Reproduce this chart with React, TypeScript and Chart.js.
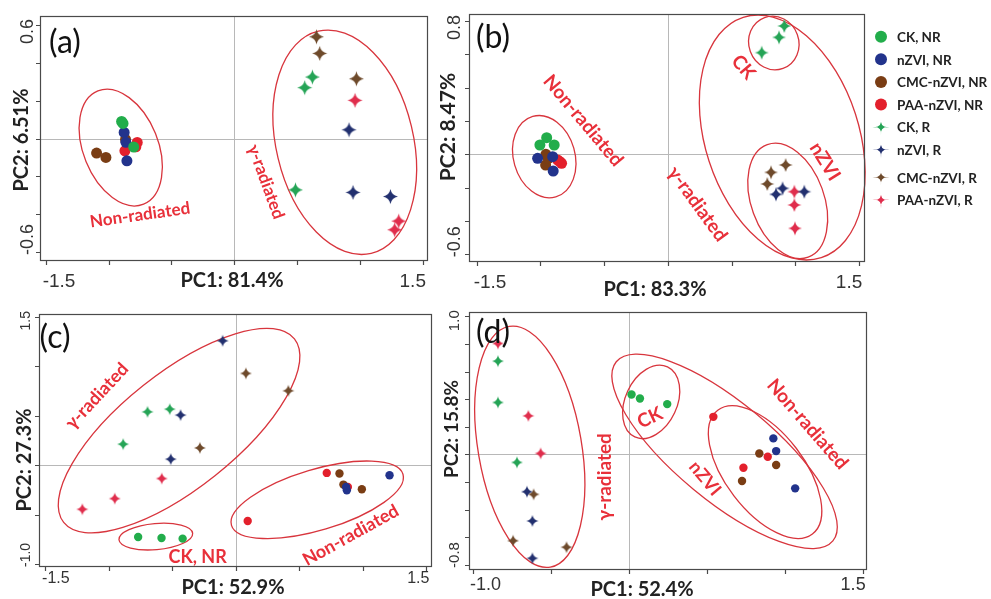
import { useEffect, useRef } from "react";
import { Chart, registerables } from "chart.js";

Chart.register(...registerables);

const PAGE_W = 991;
const PAGE_H = 599;

// Treatment groups, in legend order
const SERIES = [
  "CK, NR",
  "nZVI, NR",
  "CMC-nZVI, NR",
  "PAA-nZVI, NR",
  "CK, R",
  "nZVI, R",
  "CMC-nZVI, R",
  "PAA-nZVI, R",
];
const RADIATED = [false, false, false, false, true, true, true, true];
const SERIES_COLORS = ["#22ad4b", "#22338c", "#7a3d14", "#e3202c", "#25a456", "#22306f", "#6e4a2b", "#e02d4c"];

type Pt = [number, number];

// PCA scores (PC1, PC2), three replicates per series
const scoresA: Pt[][] = [
  [[-0.896, 0.09], [-0.885, 0.08], [-0.8, -0.045]],
  [[-0.876, 0.032], [-0.862, -0.02], [-0.854, -0.118]],
  [[-1.095, -0.077], [-1.021, -0.1], [-0.865, -0.005]],
  [[-0.87, -0.065], [-0.772, -0.021], [-0.783, -0.044]],
  [[0.56, 0.269], [0.621, 0.325], [0.486, -0.272]],
  [[0.912, 0.046], [0.944, -0.285], [1.241, -0.307]],
  [[0.653, 0.538], [0.679, 0.45], [0.971, 0.316]],
  [[0.96, 0.202], [1.307, -0.437], [1.275, -0.483]],
];
const scoresB: Pt[][] = [
  [[-0.951, 0.1], [-1.004, 0.056], [-0.892, 0.056]],
  [[-1.022, -0.024], [-0.904, -0.014], [-0.9, -0.1]],
  [[-0.957, 0.0], [-0.959, -0.064], [-0.939, -0.024]],
  [[-0.847, -0.044], [-0.834, -0.054], [-0.865, -0.034]],
  [[0.735, 0.61], [0.871, 0.702], [0.912, 0.77]],
  [[0.847, -0.24], [0.899, -0.204], [1.069, -0.224]],
  [[0.808, -0.108], [0.923, -0.064], [0.779, -0.178]],
  [[0.991, -0.224], [0.991, -0.304], [0.996, -0.444]],
];
const scoresC: Pt[][] = [
  [[-0.768, -0.726], [-0.584, -0.736], [-0.418, -0.743]],
  [[1.21, -0.101], [0.874, -0.253], [0.868, -0.22]],
  [[0.816, -0.084], [0.847, -0.196], [0.992, -0.243]],
  [[0.716, -0.078], [0.094, -0.564], [0.882, -0.22]],
  [[-0.694, 0.54], [-0.519, 0.567], [-0.886, 0.213]],
  [[-0.103, 1.259], [-0.434, 0.507], [-0.511, 0.061]],
  [[0.08, 0.929], [0.414, 0.753], [-0.282, 0.175]],
  [[-0.582, -0.135], [-0.952, -0.338], [-1.207, -0.446]],
];
const scoresD: Pt[][] = [
  [[0.017, 0.434], [0.071, 0.405], [0.246, 0.364]],
  [[0.927, 0.116], [0.945, 0.024], [1.067, -0.246]],
  [[0.837, 0.007], [0.945, -0.077], [0.726, -0.193]],
  [[0.542, 0.272], [0.891, -0.017], [0.735, -0.097]],
  [[-0.84, 0.675], [-0.84, 0.376], [-0.718, -0.058]],
  [[-0.654, -0.27], [-0.619, -0.482], [-0.619, -0.752]],
  [[-0.611, -0.289], [-0.743, -0.625], [-0.4, -0.672]],
  [[-0.84, 0.803], [-0.645, 0.279], [-0.566, 0.007]],
];

// Axis ticks
const ticksX15 = [-1.5, -1, -0.5, 0, 0.5, 1, 1.5];
const ticksYA = [-0.6, -0.4, -0.2, 0, 0.2, 0.4, 0.6];
const ticksYB = [-0.6, -0.4, -0.2, 0, 0.2, 0.4, 0.6, 0.8];
const ticksYC = [-1, -0.5, 0, 0.5, 1, 1.5];
const ticksXD = [-1, -0.5, 0, 0.5, 1, 1.5];
const ticksYD = [-0.8, -0.6, -0.4, -0.2, 0, 0.2, 0.4, 0.6, 0.8, 1.0];

// Explained variance per component
const varA = [81.4, 6.51];
const varB = [83.3, 8.47];
const varC = [52.9, 27.3];
const varD = [52.4, 15.8];

// Grouping ellipses: centre, semi-axes (in axis units), tilt in degrees
type Ring = { cx: number; cy: number; rx: number; ry: number; rot: number };
const ringsA: Ring[] = [
  { cx: -0.903, cy: -0.048, rx: 0.298, ry: 0.323, rot: -22 },
  { cx: 0.878, cy: -0.02, rx: 0.545, ry: 0.604, rot: -13.4 },
];
const ringsB: Ring[] = [
  { cx: -0.97, cy: -0.014, rx: 0.241, ry: 0.251, rot: -16 },
  { cx: 0.83, cy: 0.668, rx: 0.196, ry: 0.162, rot: -20 },
  { cx: 0.939, cy: -0.279, rx: 0.286, ry: 0.359, rot: -20 },
  { cx: 0.896, cy: 0.101, rx: 0.603, ry: 0.758, rot: -18 },
];
const ringsC: Ring[] = [
  { cx: -0.446, cy: 0.35, rx: 1.16, ry: 0.583, rot: -38.5 },
  { cx: -0.629, cy: -0.722, rx: 0.291, ry: 0.132, rot: -5 },
  { cx: 0.641, cy: -0.35, rx: 0.704, ry: 0.308, rot: -16.6 },
];
const ringsD: Ring[] = [
  { cx: -0.636, cy: 0.055, rx: 0.332, ry: 0.884, rot: -9.7 },
  { cx: 0.614, cy: 0.022, rx: 0.902, ry: 0.355, rot: 39.6 },
  { cx: 0.143, cy: 0.38, rx: 0.166, ry: 0.28, rot: 25 },
  { cx: 0.874, cy: -0.128, rx: 0.5, ry: 0.284, rot: 52.6 },
];

// Group captions placed in axis units
type Note = { text: string; x: number; y: number; rot: number; size: number };
const notesA: Note[] = [
  { text: "Non-radiated", x: -0.75, y: -0.405, rot: -8, size: 17 },
  { text: "γ-radiated", x: 0.251, y: -0.229, rot: 70, size: 17 },
];
const notesB: Note[] = [
  { text: "Non-radiated", x: -0.664, y: 0.202, rot: 50, size: 19 },
  { text: "γ-radiated", x: 0.23, y: -0.298, rot: 54, size: 19 },
  { text: "CK", x: 0.591, y: 0.522, rot: 50, size: 19 },
  { text: "nZVI", x: 1.231, y: -0.044, rot: 58, size: 19 },
];
const notesC: Note[] = [
  { text: "γ-radiated", x: -1.091, y: 0.699, rot: -47, size: 18 },
  { text: "CK, NR", x: -0.3, y: -0.929, rot: 0, size: 18 },
  { text: "Non-radiated", x: 0.905, y: -0.709, rot: -29, size: 18 },
];
const notesD: Note[] = [
  { text: "γ-radiated", x: -0.154, y: -0.162, rot: -90, size: 19 },
  { text: "CK", x: 0.135, y: 0.265, rot: -25, size: 19 },
  { text: "nZVI", x: 0.488, y: -0.174, rot: 50, size: 18 },
  { text: "Non-radiated", x: 1.146, y: 0.219, rot: 49, size: 19 },
];

const RING_COLOR = "#d8353d";
const NOTE_COLOR = "#e8303a";
const INK = "#222";
const AXIS_INK = "#4a4a4a";
const BOLD_FONT = "Lato, 'Open Sans', 'Noto Sans', sans-serif";
const TICK_FONT = "'Liberation Sans Narrow', 'Arial Narrow', 'Liberation Sans', sans-serif";

type Frame = { l: number; t: number; r: number; b: number };
type PanelSpec = {
  letter: string;
  frame: Frame;
  xRange: [number, number];
  yRange: [number, number];
  xTicks: number[];
  yTicks: number[];
  variance: number[];
  scores: Pt[][];
  rings: Ring[];
  notes: Note[];
  dotR: number;
  starR: number;
  letterPos: [number, number];
  xTitlePos: [number, number];
  yTitlePos: [number, number];
  titleSize: number;
  yTitleSize: number;
  xTickY: number;
  xTickSize: number;
  yTickX: number;
  yTickSize: number;
  legend: boolean;
};

const PANELS: PanelSpec[] = [
  {
    letter: "(a)",
    frame: { l: 40, t: 16, r: 428, b: 261 },
    xRange: [-1.545, 1.54],
    yRange: [-0.648, 0.648],
    xTicks: ticksX15,
    yTicks: ticksYA,
    variance: varA,
    scores: scoresA,
    rings: ringsA,
    notes: notesA,
    dotR: 5.5,
    starR: 7.5,
    letterPos: [65, 43],
    xTitlePos: [232, 281],
    yTitlePos: [22, 140],
    titleSize: 20,
    yTitleSize: 20,
    xTickY: 282,
    xTickSize: 19,
    yTickX: 28,
    yTickSize: 18,
    legend: false,
  },
  {
    letter: "(b)",
    frame: { l: 469, t: 14, r: 865, b: 262 },
    xRange: [-1.56, 1.545],
    yRange: [-0.646, 0.842],
    xTicks: ticksX15,
    yTicks: ticksYB,
    variance: varB,
    scores: scoresB,
    rings: ringsB,
    notes: notesB,
    dotR: 5.5,
    starR: 7,
    letterPos: [493, 38],
    xTitlePos: [655, 290],
    yTitlePos: [448, 127],
    titleSize: 20,
    yTitleSize: 21,
    xTickY: 283,
    xTickSize: 19,
    yTickX: 455,
    yTickSize: 18,
    legend: true,
  },
  {
    letter: "(c)",
    frame: { l: 39, t: 314, r: 432, b: 567 },
    xRange: [-1.548, 1.544],
    yRange: [-1.03, 1.53],
    xTicks: ticksX15,
    yTicks: ticksYC,
    variance: varC,
    scores: scoresC,
    rings: ringsC,
    notes: notesC,
    dotR: 4.2,
    starR: 6,
    letterPos: [55, 338],
    xTitlePos: [233, 588],
    yTitlePos: [25, 460],
    titleSize: 20,
    yTitleSize: 20,
    xTickY: 579,
    xTickSize: 16,
    yTickX: 26,
    yTickSize: 14,
    legend: false,
  },
  {
    letter: "(d)",
    frame: { l: 469, t: 312, r: 867, b: 570 },
    xRange: [-1.026, 1.528],
    yRange: [-0.837, 1.031],
    xTicks: ticksXD,
    yTicks: ticksYD,
    variance: varD,
    scores: scoresD,
    rings: ringsD,
    notes: notesD,
    dotR: 4.2,
    starR: 6,
    letterPos: [493, 333],
    xTitlePos: [642, 590],
    yTitlePos: [452, 429],
    titleSize: 20,
    yTitleSize: 19,
    xTickY: 585,
    xTickSize: 18,
    yTickX: 455,
    yTickSize: 15,
    legend: false,
  },
];

// Four-pointed star used for the irradiated samples
function starPath(ctx: CanvasRenderingContext2D, cx: number, cy: number, r: number, w: number) {
  ctx.beginPath();
  ctx.moveTo(cx, cy - r);
  ctx.quadraticCurveTo(cx + w, cy - w, cx + r, cy);
  ctx.quadraticCurveTo(cx + w, cy + w, cx, cy + r);
  ctx.quadraticCurveTo(cx - w, cy + w, cx - r, cy);
  ctx.quadraticCurveTo(cx - w, cy - w, cx, cy - r);
  ctx.closePath();
}

function starImage(color: string, r: number): HTMLCanvasElement {
  const size = Math.ceil(2 * r + 2);
  const c = document.createElement("canvas");
  c.width = size;
  c.height = size;
  const g = c.getContext("2d")!;
  g.fillStyle = color;
  starPath(g, size / 2, size / 2, r, r * 0.16);
  g.fill();
  return c;
}

function fmt(v: number) {
  return v.toFixed(1);
}

function panelDecor(spec: PanelSpec) {
  return {
    id: "panelDecor",
    beforeDatasetsDraw(chart: Chart) {
      const { ctx, chartArea: a } = chart;
      const xs = chart.scales.x;
      const ys = chart.scales.y;
      ctx.save();
      // reference lines through the origin
      ctx.strokeStyle = "#b8b8b8";
      ctx.lineWidth = 1;
      const zx = Math.round(xs.getPixelForValue(0)) + 0.5;
      const zy = Math.round(ys.getPixelForValue(0)) + 0.5;
      ctx.beginPath();
      ctx.moveTo(zx, a.top);
      ctx.lineTo(zx, a.bottom);
      ctx.moveTo(a.left, zy);
      ctx.lineTo(a.right, zy);
      ctx.stroke();
      // group ellipses
      ctx.strokeStyle = RING_COLOR;
      ctx.lineWidth = 1.3;
      for (const r of spec.rings) {
        const px = xs.getPixelForValue(r.cx);
        const py = ys.getPixelForValue(r.cy);
        const rx = Math.abs(xs.getPixelForValue(r.cx + r.rx) - px);
        const ry = Math.abs(ys.getPixelForValue(r.cy + r.ry) - py);
        ctx.beginPath();
        ctx.ellipse(px, py, rx, ry, (r.rot * Math.PI) / 180, 0, Math.PI * 2);
        ctx.stroke();
      }
      ctx.restore();
    },
    afterDatasetsDraw(chart: Chart) {
      const { ctx, chartArea: a } = chart;
      const xs = chart.scales.x;
      const ys = chart.scales.y;
      ctx.save();

      // box and tick marks
      ctx.strokeStyle = AXIS_INK;
      ctx.lineWidth = 1.2;
      ctx.strokeRect(a.left + 0.5, a.top + 0.5, a.right - a.left - 1, a.bottom - a.top - 1);
      ctx.beginPath();
      for (const v of spec.xTicks) {
        const px = Math.round(xs.getPixelForValue(v)) + 0.5;
        ctx.moveTo(px, a.bottom);
        ctx.lineTo(px, a.bottom + 4);
      }
      for (const v of spec.yTicks) {
        const py = Math.round(ys.getPixelForValue(v)) + 0.5;
        ctx.moveTo(a.left, py);
        ctx.lineTo(a.left - 4, py);
      }
      ctx.stroke();

      // end tick labels
      ctx.fillStyle = "#333";
      ctx.textBaseline = "middle";
      ctx.font = `${spec.xTickSize}px ${TICK_FONT}`;
      const xFirst = spec.xTicks[0];
      const xLast = spec.xTicks[spec.xTicks.length - 1];
      ctx.textAlign = "left";
      ctx.fillText(fmt(xFirst), xs.getPixelForValue(xFirst) - 3, spec.xTickY);
      ctx.textAlign = "right";
      ctx.fillText(fmt(xLast), xs.getPixelForValue(xLast) + 3, spec.xTickY);

      ctx.font = `${spec.yTickSize}px ${TICK_FONT}`;
      const yFirst = spec.yTicks[0];
      const yLast = spec.yTicks[spec.yTicks.length - 1];
      ctx.save();
      ctx.translate(spec.yTickX, ys.getPixelForValue(yFirst));
      ctx.rotate(-Math.PI / 2);
      ctx.textAlign = "left";
      ctx.fillText(fmt(yFirst), -3, 0);
      ctx.restore();
      ctx.save();
      ctx.translate(spec.yTickX, ys.getPixelForValue(yLast));
      ctx.rotate(-Math.PI / 2);
      ctx.textAlign = "right";
      ctx.fillText(fmt(yLast), 6, 0);
      ctx.restore();

      // axis titles
      ctx.fillStyle = INK;
      ctx.textAlign = "center";
      ctx.font = `bold ${spec.titleSize}px ${BOLD_FONT}`;
      ctx.fillText(`PC1: ${spec.variance[0]}%`, spec.xTitlePos[0], spec.xTitlePos[1]);
      ctx.save();
      ctx.translate(spec.yTitlePos[0], spec.yTitlePos[1]);
      ctx.rotate(-Math.PI / 2);
      ctx.font = `bold ${spec.yTitleSize}px ${BOLD_FONT}`;
      ctx.fillText(`PC2: ${spec.variance[1]}%`, 0, 0);
      ctx.restore();

      // panel letter
      ctx.fillStyle = "#111";
      ctx.font = `32px ${BOLD_FONT}`;
      ctx.fillText(spec.letter, spec.letterPos[0], spec.letterPos[1]);

      // group captions
      ctx.fillStyle = NOTE_COLOR;
      for (const n of spec.notes) {
        ctx.save();
        ctx.translate(xs.getPixelForValue(n.x), ys.getPixelForValue(n.y));
        ctx.rotate((n.rot * Math.PI) / 180);
        ctx.font = `bold ${n.size}px ${BOLD_FONT}`;
        ctx.fillText(n.text, 0, 0);
        ctx.restore();
      }

      // legend
      if (spec.legend) {
        const lx = 881;
        ctx.font = `bold 13.5px ${BOLD_FONT}`;
        ctx.textAlign = "left";
        SERIES.forEach((name, i) => {
          const ly = 36.7 + i * 22.6 + (i >= 6 ? 5 : 0);
          ctx.fillStyle = SERIES_COLORS[i];
          if (RADIATED[i]) {
            starPath(ctx, lx, ly, 8.5, -1.2);
            ctx.fill();
          } else {
            ctx.beginPath();
            ctx.arc(lx, ly, 6, 0, Math.PI * 2);
            ctx.fill();
          }
          ctx.fillStyle = INK;
          ctx.fillText(name, 897, ly + 1);
        });
      }
      ctx.restore();
    },
  };
}

function PcaPanel({ spec }: { spec: PanelSpec }) {
  const ref = useRef<HTMLCanvasElement>(null);
  useEffect(() => {
    const canvas = ref.current;
    if (!canvas) return;
    const f = spec.frame;
    const chart = new Chart(canvas, {
      type: "scatter",
      data: {
        datasets: SERIES.map((name, i) => ({
          label: name,
          data: spec.scores[i].map(([x, y]) => ({ x, y })),
          pointStyle: RADIATED[i] ? starImage(SERIES_COLORS[i], spec.starR) : "circle",
          pointRadius: RADIATED[i] ? spec.starR : spec.dotR,
          backgroundColor: SERIES_COLORS[i],
          borderColor: SERIES_COLORS[i],
          borderWidth: 0,
        })),
      },
      options: {
        responsive: false,
        animation: false,
        devicePixelRatio: 1,
        events: [],
        layout: {
          padding: { left: f.l, top: f.t, right: PAGE_W - f.r, bottom: PAGE_H - f.b },
        },
        scales: {
          x: { type: "linear", display: false, min: spec.xRange[0], max: spec.xRange[1] },
          y: { type: "linear", display: false, min: spec.yRange[0], max: spec.yRange[1] },
        },
        plugins: {
          legend: { display: false },
          tooltip: { enabled: false },
        },
      },
      plugins: [panelDecor(spec)],
    });
    return () => chart.destroy();
  }, [spec]);
  return (
    <canvas
      ref={ref}
      width={PAGE_W}
      height={PAGE_H}
      style={{ position: "absolute", left: 0, top: 0, width: PAGE_W, height: PAGE_H }}
    />
  );
}

export default function App() {
  return (
    <div
      style={{
        position: "absolute",
        left: 0,
        top: 0,
        width: PAGE_W,
        height: PAGE_H,
        background: "#fff",
        overflow: "hidden",
      }}
    >
      {PANELS.map((p) => (
        <PcaPanel key={p.letter} spec={p} />
      ))}
    </div>
  );
}
